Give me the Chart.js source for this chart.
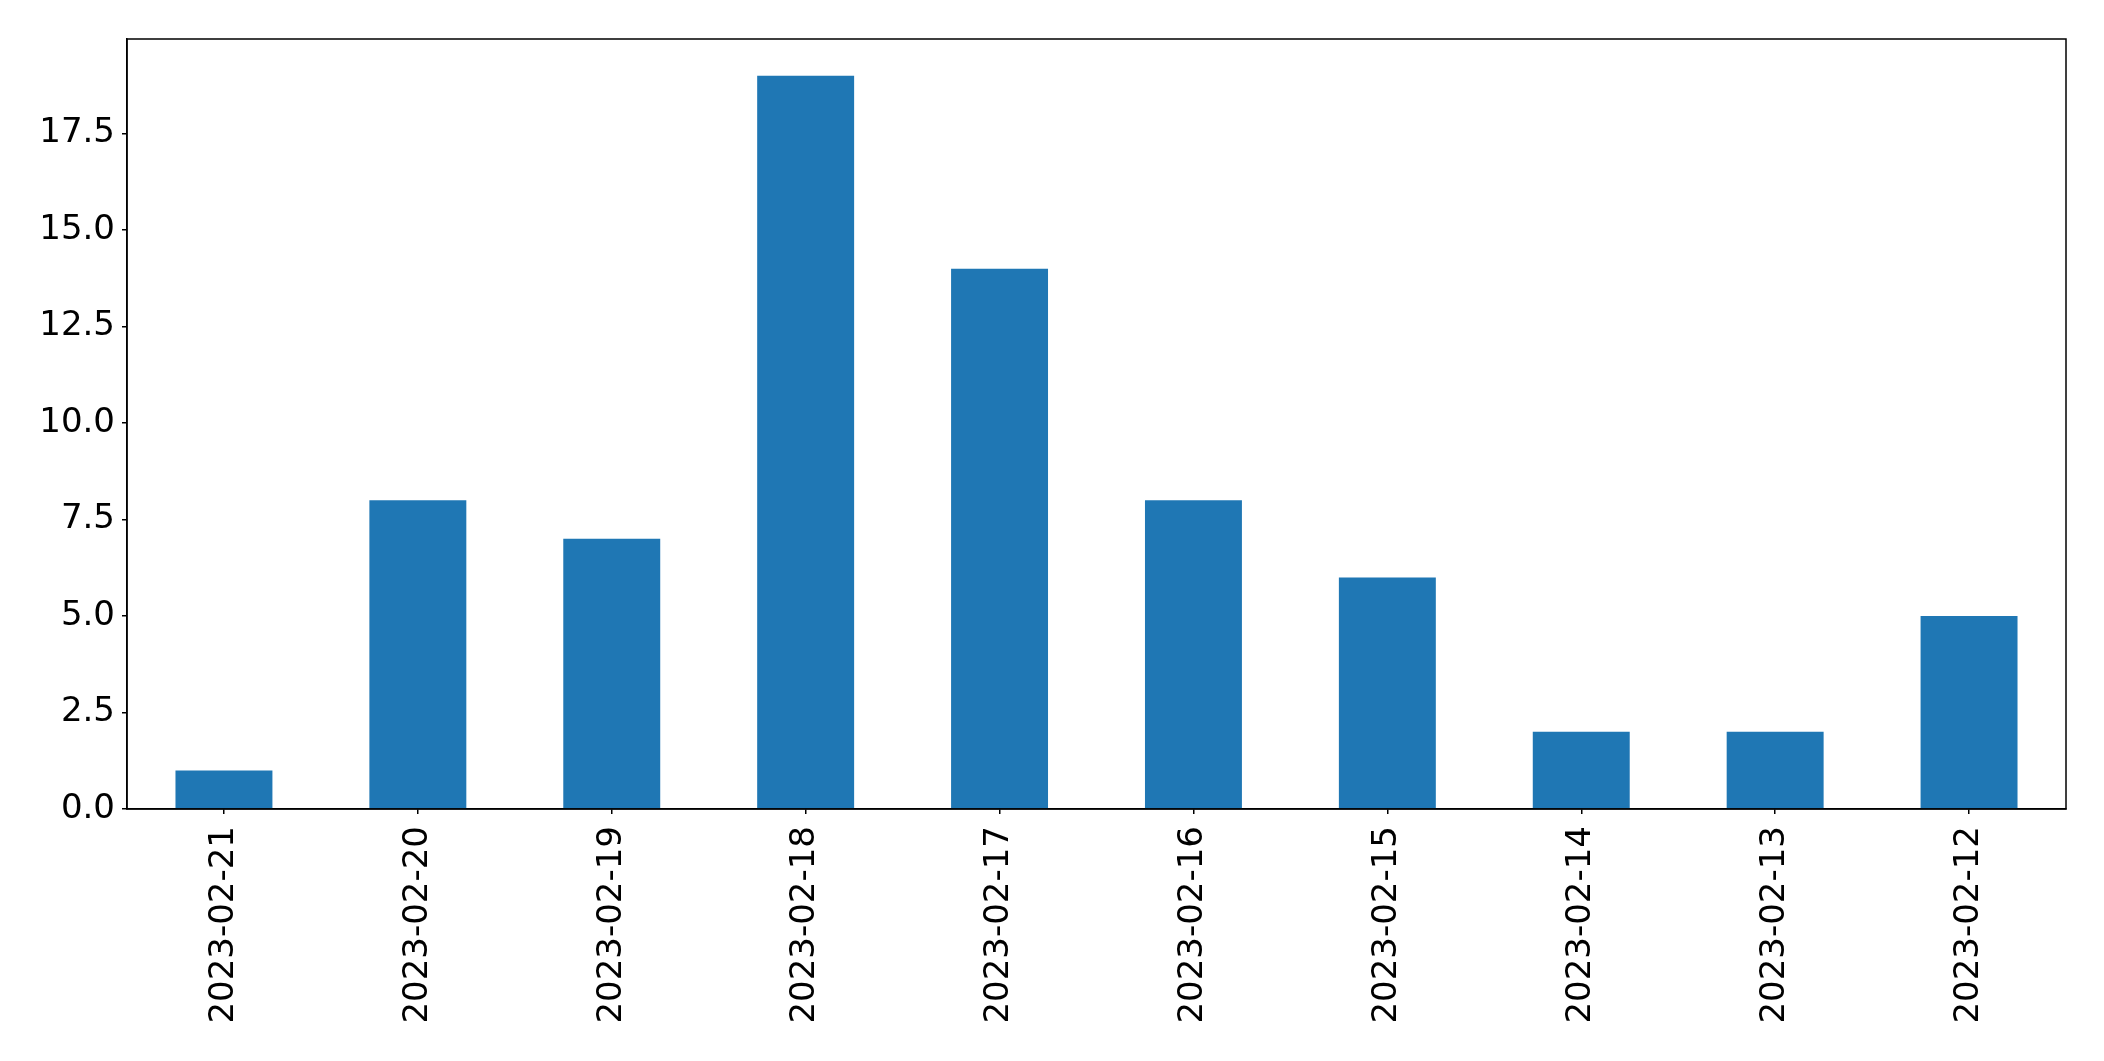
<!DOCTYPE html>
<html>
<head>
<meta charset="utf-8">
<script src="https://cdn.jsdelivr.net/npm/chart.js@4.4.0/dist/chart.umd.min.js"></script>
<style>
  html, body { margin: 0; padding: 0; background: #fff; }
  #wrap { width: 2104px; height: 1061px; position: relative; }
</style>
</head>
<body>
<div id="wrap"><canvas id="barChart"></canvas></div>
<script>
const dates = ['2023-02-21', '2023-02-20', '2023-02-19', '2023-02-18', '2023-02-17',
               '2023-02-16', '2023-02-15', '2023-02-14', '2023-02-13', '2023-02-12'];
const counts = [1, 8, 7, 19, 14, 8, 6, 2, 2, 5];
const yTicks = [0, 2.5, 5, 7.5, 10, 12.5, 15, 17.5];

const BAR_COLOR = '#1f77b4';
const FONT = { family: 'DejaVu Sans', size: 34 };

// matplotlib draws all four spines, Chart.js only the axis lines
const frameBox = {
    id: 'frameBox',
    afterDraw(chart) {
        const { ctx, chartArea } = chart;
        ctx.save();
        ctx.strokeStyle = '#000';
        ctx.lineWidth = 1.5;
        ctx.strokeRect(chartArea.left, chartArea.top, chartArea.right - chartArea.left, chartArea.bottom - chartArea.top);
        ctx.restore();
    }
};

new Chart(document.getElementById('barChart'), {
    type: 'bar',
    data: {
        labels: dates,
        datasets: [{
            data: counts,
            backgroundColor: BAR_COLOR,
            categoryPercentage: 1.0,
            barPercentage: 0.5
        }]
    },
    options: {
        responsive: true,
        maintainAspectRatio: false,
        animation: false,
        layout: { padding: { top: 39, right: 38, left: 0, bottom: 0 } },
        plugins: {
            legend: { display: false },
            tooltip: { enabled: false }
        },
        scales: {
            x: {
                grid: { display: true, drawOnChartArea: false, offset: false, tickLength: 5, color: '#000', lineWidth: 1.5 },
                border: { display: true, color: '#000', width: 1.5 },
                ticks: { color: '#000', font: FONT, minRotation: 90, maxRotation: 90, padding: 12, autoSkip: false },
                afterFit(scale) { scale.height = 252; }
            },
            y: {
                min: 0,
                max: 19.95,
                grid: { display: true, drawOnChartArea: false, tickLength: 5, color: '#000', lineWidth: 1.5 },
                border: { display: true, color: '#000', width: 1.5 },
                ticks: {
                    color: '#000',
                    font: FONT,
                    padding: 7,
                    callback: v => Number(v).toFixed(1)
                },
                afterBuildTicks(scale) { scale.ticks = yTicks.map(v => ({ value: v })); },
                afterFit(scale) { scale.width = 127; }
            }
        }
    },
    plugins: [frameBox]
});
</script>
</body>
</html>
